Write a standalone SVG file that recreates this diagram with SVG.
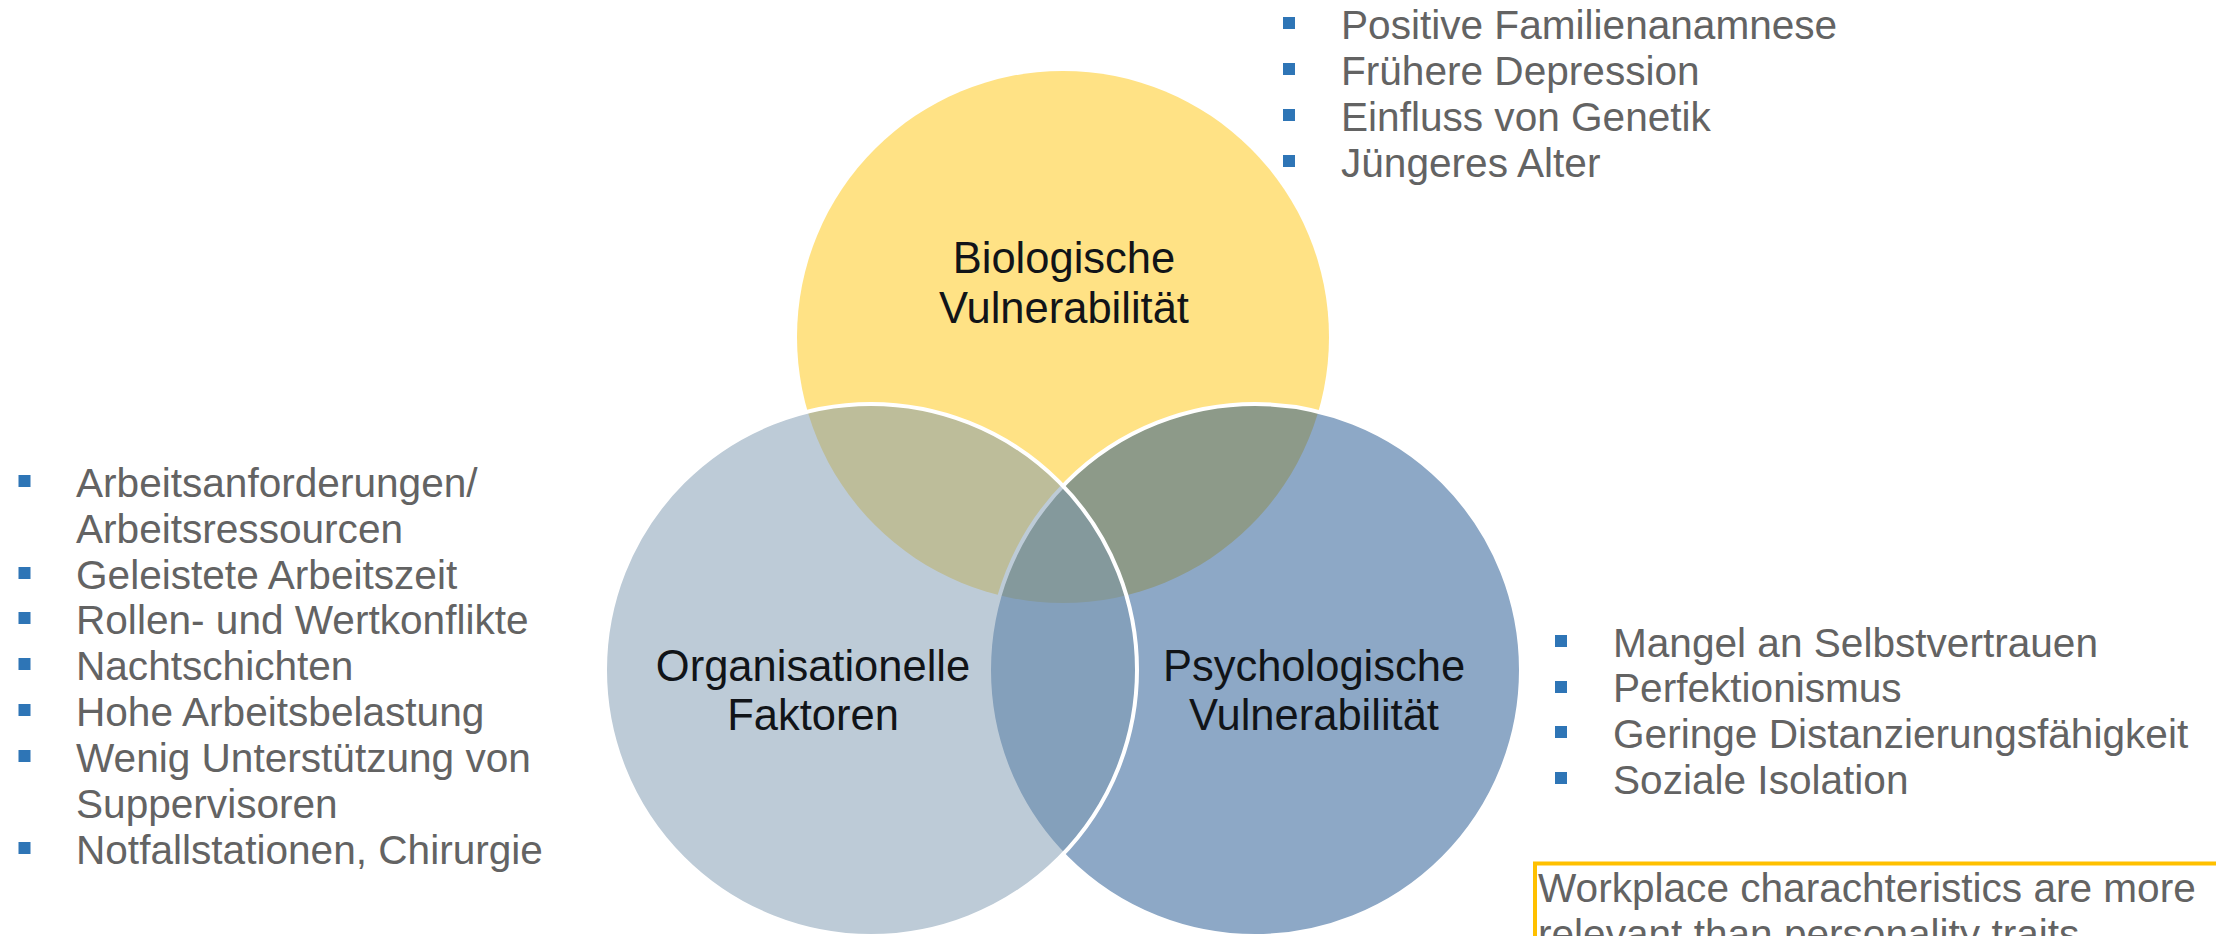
<svg xmlns="http://www.w3.org/2000/svg" width="2216" height="936" viewBox="0 0 2216 936">
  <style>
    .lbl { font-family: "Liberation Sans", Arial, sans-serif; font-size: 43.5px; fill: #111418; text-anchor: middle; }
    .itm { font-family: "Liberation Sans", Arial, sans-serif; font-size: 40.6px; fill: #636363; }
    .bul { fill: #2E75B6; }
    .ring { stroke: #FFFFFF; stroke-width: 4; fill-opacity: 0.5; }
  </style>
  <rect x="0" y="0" width="2216" height="936" fill="#FFFFFF"/>

  <g id="node-biologisch">
    <circle cx="1063" cy="337" r="266" fill="#FFE285"/>
    <text class="lbl"><tspan x="1064" y="273">Biologische</tspan><tspan x="1064" y="323">Vulnerabilität</tspan></text>
  </g>

  <g id="node-psychologisch">
    <circle class="ring" cx="1255" cy="670" r="266" fill="#1B518D"/>
    <text class="lbl"><tspan x="1314" y="681">Psychologische</tspan><tspan x="1314" y="730">Vulnerabilität</tspan></text>
  </g>

  <g id="node-organisationell">
    <circle class="ring" cx="871" cy="670" r="266" fill="#7B97AF"/>
    <text class="lbl"><tspan x="813" y="681">Organisationelle</tspan><tspan x="813" y="730">Faktoren</tspan></text>
  </g>

  <g id="connectors"></g>

  <g id="list-biologisch">
    <rect class="bul" x="1283" y="17" width="12" height="12"/>
    <rect class="bul" x="1283" y="63" width="12" height="12"/>
    <rect class="bul" x="1283" y="109" width="12" height="12"/>
    <rect class="bul" x="1283" y="155" width="12" height="12"/>
    <text class="itm" x="1341" y="39">Positive Familienanamnese</text>
    <text class="itm" x="1341" y="85">Frühere Depression</text>
    <text class="itm" x="1341" y="131">Einfluss von Genetik</text>
    <text class="itm" x="1341" y="177">Jüngeres Alter</text>
  </g>

  <g id="list-organisationell">
    <rect class="bul" x="18.5" y="475" width="12" height="12"/>
    <rect class="bul" x="18.5" y="567" width="12" height="12"/>
    <rect class="bul" x="18.5" y="612" width="12" height="12"/>
    <rect class="bul" x="18.5" y="658" width="12" height="12"/>
    <rect class="bul" x="18.5" y="704" width="12" height="12"/>
    <rect class="bul" x="18.5" y="750" width="12" height="12"/>
    <rect class="bul" x="18.5" y="842" width="12" height="12"/>
    <text class="itm" x="76" y="497">Arbeitsanforderungen/</text>
    <text class="itm" x="76" y="543">Arbeitsressourcen</text>
    <text class="itm" x="76" y="589">Geleistete Arbeitszeit</text>
    <text class="itm" x="76" y="634">Rollen- und Wertkonflikte</text>
    <text class="itm" x="76" y="680">Nachtschichten</text>
    <text class="itm" x="76" y="726">Hohe Arbeitsbelastung</text>
    <text class="itm" x="76" y="772">Wenig Unterstützung von</text>
    <text class="itm" x="76" y="818">Suppervisoren</text>
    <text class="itm" x="76" y="864">Notfallstationen, Chirurgie</text>
  </g>

  <g id="list-psychologisch">
    <rect class="bul" x="1555" y="635" width="12" height="12"/>
    <rect class="bul" x="1555" y="681" width="12" height="12"/>
    <rect class="bul" x="1555" y="726" width="12" height="12"/>
    <rect class="bul" x="1555" y="772" width="12" height="12"/>
    <text class="itm" x="1613" y="657">Mangel an Selbstvertrauen</text>
    <text class="itm" x="1613" y="702">Perfektionismus</text>
    <text class="itm" x="1613" y="748">Geringe Distanzierungsfähigkeit</text>
    <text class="itm" x="1613" y="794">Soziale Isolation</text>
  </g>

  <g id="note-box">
    <rect x="1535" y="863.5" width="720" height="200" fill="none" stroke="#FFC000" stroke-width="4"/>
    <text class="itm" x="1538" y="902">Workplace charachteristics are more</text>
    <text class="itm" x="1538" y="948">relevant than personality traits</text>
  </g>
</svg>
